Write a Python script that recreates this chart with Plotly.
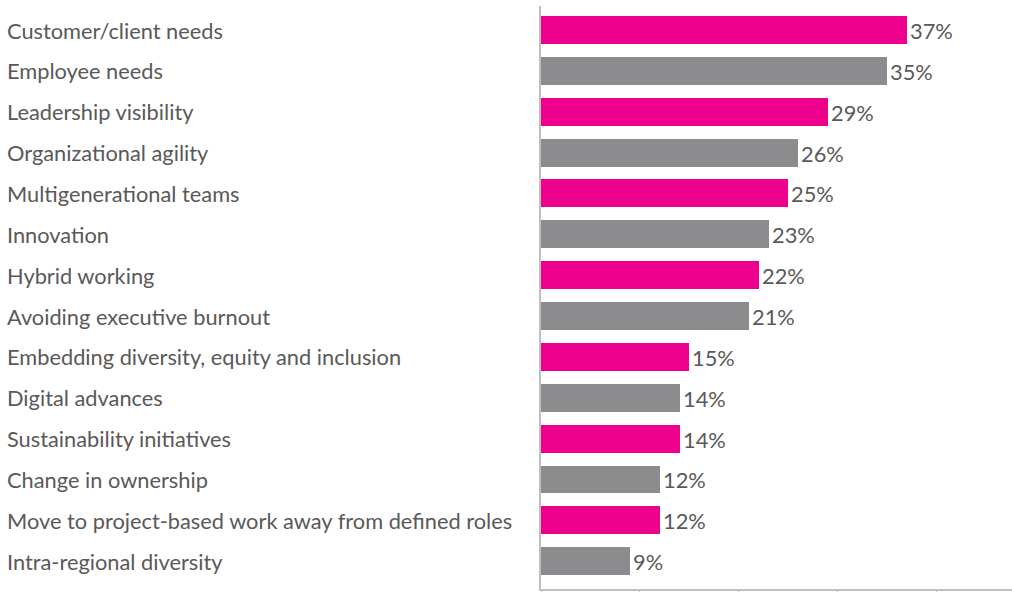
import plotly.graph_objects as go

categories = [
    "Customer/client needs",
    "Employee needs",
    "Leadership visibility",
    "Organizational agility",
    "Multigenerational teams",
    "Innovation",
    "Hybrid working",
    "Avoiding executive burnout",
    "Embedding diversity, equity and inclusion",
    "Digital advances",
    "Sustainability initiatives",
    "Change in ownership",
    "Move to project-based work away from defined roles",
    "Intra-regional diversity",
]
values = [37, 35, 29, 26, 25, 23, 22, 21, 15, 14, 14, 12, 12, 9]
value_labels = [f"{v}%" for v in values]

PINK = "#EC008C"
GREY = "#8C8C8E"
TEXT = "#595959"
AXIS = "#BFBFBF"
FONT = "Lato, 'Open Sans', sans-serif"
FONT_SIZE = 21.8

bar_colors = [PINK if i % 2 == 0 else GREY for i in range(len(categories))]

fig = go.Figure(
    go.Bar(
        x=values,
        y=list(range(len(categories))),
        orientation="h",
        marker=dict(color=bar_colors, line=dict(width=0)),
        width=0.685,
        text=value_labels,
        textposition="outside",
        textfont=dict(family=FONT, size=FONT_SIZE, color=TEXT),
        cliponaxis=False,
        hoverinfo="skip",
    )
)

# Category names, left-aligned in the left margin
for i, name in enumerate(categories):
    fig.add_annotation(
        x=-1.1386,
        xref="paper",
        y=i,
        yref="y",
        text=name,
        showarrow=False,
        xanchor="left",
        yanchor="middle",
        font=dict(family=FONT, size=FONT_SIZE, color=TEXT),
    )

fig.update_layout(
    width=1012,
    height=592,
    margin=dict(l=541, r=0, t=6, b=3),
    paper_bgcolor="white",
    plot_bgcolor="white",
    showlegend=False,
    bargap=0,
)

fig.update_xaxes(
    range=[0, 47.6],
    showgrid=False,
    zeroline=False,
    showline=True,
    linecolor=AXIS,
    linewidth=1.5,
    ticks="outside",
    ticklen=3,
    tickcolor=AXIS,
    tickwidth=1,
    dtick=10,
    tick0=0,
    showticklabels=False,
)

fig.update_yaxes(
    range=[13.68, -0.588],
    showgrid=False,
    zeroline=False,
    showline=True,
    linecolor=AXIS,
    linewidth=1.5,
    showticklabels=False,
    ticks="",
)

fig.write_html("out.html")
